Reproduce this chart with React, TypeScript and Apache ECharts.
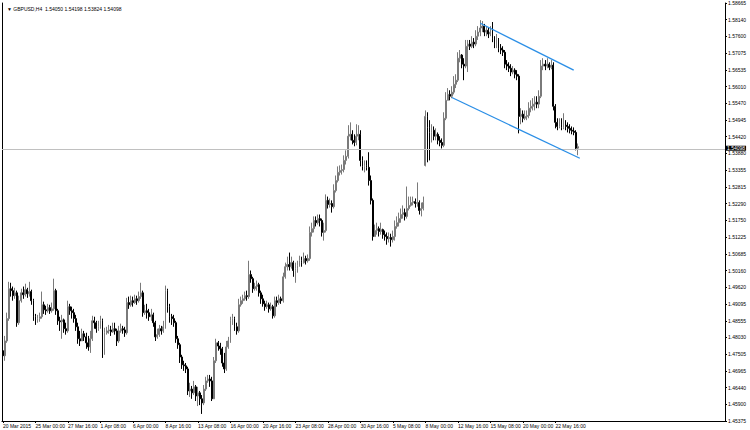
import React, { useEffect, useRef } from 'react';
import * as echarts from 'echarts';

const symbolName = 'GBPUSD';
const timeframe = 'H4';

const xLabels = [
  '20 Mar 2015', '25 Mar 00:00', '27 Mar 16:00', '1 Apr 08:00', '6 Apr 00:00', '8 Apr 16:00',
  '13 Apr 08:00', '16 Apr 00:00', '20 Apr 16:00', '23 Apr 08:00', '28 Apr 00:00', '30 Apr 16:00',
  '5 May 08:00', '8 May 00:00', '12 May 16:00', '15 May 08:00', '20 May 00:00', '22 May 16:00',
];
const barsPerLabel = 16;
const emptySlots = 72;

const yMin = 1.45375;
const yMax = 1.58665;
const yTicks = [
  1.58665, 1.5814, 1.576, 1.57075, 1.56535, 1.5601, 1.5547, 1.54945, 1.5442, 1.5388, 1.53355,
  1.52815, 1.5229, 1.5175, 1.51225, 1.50685, 1.5016, 1.4962, 1.49095, 1.48555, 1.4803, 1.47505,
  1.46965, 1.4644, 1.459, 1.45375,
];

const firstOpen = 1.4761;
const gapOpens: Record<number, number> = { 208: 1.535 };

const closes = [
  1.4745, 1.4792, 1.4863, 1.4958, 1.4952, 1.4936, 1.4945, 1.4850, 1.4920, 1.4945,
  1.4939, 1.4955, 1.4942, 1.4949, 1.4920, 1.4869, 1.4856, 1.4863, 1.4869, 1.4907,
  1.4891, 1.4888, 1.4898, 1.4888, 1.4894, 1.4952, 1.4888, 1.4856, 1.4853, 1.4859,
  1.4831, 1.4824, 1.4901, 1.4888, 1.4882, 1.4863, 1.4837, 1.4799, 1.4792, 1.4815,
  1.4805, 1.4786, 1.4773, 1.4799, 1.4856, 1.4850, 1.4831, 1.4837, 1.4856, 1.4754,
  1.4818, 1.4824, 1.4827, 1.4821, 1.4831, 1.4824, 1.4792, 1.4824, 1.4831, 1.4827,
  1.4818, 1.4914, 1.4907, 1.4920, 1.4914, 1.4926, 1.4920, 1.4933, 1.4945, 1.4882,
  1.4888, 1.4882, 1.4869, 1.4875, 1.4850, 1.4805, 1.4812, 1.4831, 1.4824, 1.4837,
  1.4952, 1.4901, 1.4869, 1.4863, 1.4850, 1.4799, 1.4780, 1.4741, 1.4716, 1.4713,
  1.4703, 1.4633, 1.4639, 1.4627, 1.4646, 1.4617, 1.4627, 1.4608, 1.4595, 1.4639,
  1.4665, 1.4671, 1.4665, 1.4608, 1.4729, 1.4786, 1.4776, 1.4767, 1.4722, 1.4703,
  1.4773, 1.4792, 1.4856, 1.4863, 1.4837, 1.4824, 1.4907, 1.4920, 1.4926, 1.4936,
  1.4933, 1.5003, 1.4990, 1.4958, 1.4965, 1.4971, 1.4945, 1.4926, 1.4910, 1.4901,
  1.4907, 1.4894, 1.4901, 1.4872, 1.4920, 1.4914, 1.4926, 1.4920, 1.4996, 1.5028,
  1.5035, 1.5028, 1.5041, 1.5016, 1.5022, 1.5031, 1.5047, 1.5041, 1.5054, 1.5047,
  1.5054, 1.5137, 1.5149, 1.5175, 1.5168, 1.5181, 1.5175, 1.5137, 1.5143, 1.5239,
  1.5226, 1.5229, 1.5219, 1.5270, 1.5302, 1.5328, 1.5334, 1.5337, 1.5366, 1.5379,
  1.5443, 1.5449, 1.5430, 1.5423, 1.5443, 1.5449, 1.5366, 1.5347, 1.5350, 1.5344,
  1.5302, 1.5239, 1.5124, 1.5143, 1.5149, 1.5140, 1.5146, 1.5130, 1.5124, 1.5117,
  1.5121, 1.5114, 1.5124, 1.5156, 1.5168, 1.5181, 1.5194, 1.5200, 1.5188, 1.5213,
  1.5223, 1.5232, 1.5235, 1.5229, 1.5232, 1.5207, 1.5213, 1.5232, 1.5506, 1.5471,
  1.5455, 1.5462, 1.5443, 1.5449, 1.5430, 1.5423, 1.5414, 1.5500, 1.5557, 1.5576,
  1.5570, 1.5583, 1.5608, 1.5621, 1.5691, 1.5701, 1.5672, 1.5666, 1.5729, 1.5736,
  1.5729, 1.5742, 1.5736, 1.5761, 1.5774, 1.5787, 1.5793, 1.5774, 1.5780, 1.5768,
  1.5774, 1.5755, 1.5736, 1.5749, 1.5723, 1.5717, 1.5710, 1.5672, 1.5666, 1.5659,
  1.5647, 1.5653, 1.5640, 1.5634, 1.5506, 1.5513, 1.5500, 1.5506, 1.5509, 1.5532,
  1.5538, 1.5545, 1.5551, 1.5545, 1.5570, 1.5666, 1.5672, 1.5666, 1.5672, 1.5662,
  1.5669, 1.5538, 1.5487, 1.5474, 1.5481, 1.5471, 1.5478, 1.5474, 1.5468, 1.5462,
  1.5459, 1.5455, 1.5405, 1.54098,
];

const highs = [
  1.4767, 1.4808, 1.4882, 1.4980, 1.4977, 1.4965, 1.4961, 1.4952, 1.4936, 1.4958,
  1.4965, 1.4974, 1.4961, 1.4980, 1.4955, 1.4926, 1.4878, 1.4875, 1.4882, 1.4949,
  1.4917, 1.4904, 1.4910, 1.4907, 1.4914, 1.4990, 1.4958, 1.4894, 1.4869, 1.4875,
  1.4863, 1.4850, 1.4920, 1.4910, 1.4901, 1.4894, 1.4875, 1.4850, 1.4824, 1.4831,
  1.4824, 1.4818, 1.4808, 1.4824, 1.4872, 1.4869, 1.4856, 1.4856, 1.4872, 1.4863,
  1.4834, 1.4837, 1.4843, 1.4840, 1.4850, 1.4850, 1.4831, 1.4840, 1.4847, 1.4840,
  1.4837, 1.4929, 1.4933, 1.4936, 1.4933, 1.4939, 1.4936, 1.4949, 1.4977, 1.4952,
  1.4907, 1.4910, 1.4894, 1.4894, 1.4882, 1.4856, 1.4831, 1.4843, 1.4840, 1.4856,
  1.4968, 1.4958, 1.4910, 1.4878, 1.4875, 1.4856, 1.4808, 1.4786, 1.4748, 1.4729,
  1.4722, 1.4710, 1.4659, 1.4649, 1.4665, 1.4652, 1.4646, 1.4633, 1.4620, 1.4652,
  1.4678, 1.4684, 1.4684, 1.4678, 1.4741, 1.4799, 1.4792, 1.4786, 1.4773, 1.4754,
  1.4792, 1.4805, 1.4869, 1.4878, 1.4869, 1.4850, 1.4926, 1.4933, 1.4939, 1.4949,
  1.4952, 1.5047, 1.5016, 1.4996, 1.4977, 1.4984, 1.4977, 1.4952, 1.4939, 1.4920,
  1.4920, 1.4914, 1.4914, 1.4907, 1.4933, 1.4933, 1.4939, 1.4933, 1.5009, 1.5041,
  1.5060, 1.5073, 1.5060, 1.5047, 1.5041, 1.5047, 1.5063, 1.5060, 1.5073, 1.5063,
  1.5067, 1.5156, 1.5168, 1.5188, 1.5188, 1.5194, 1.5194, 1.5181, 1.5168, 1.5258,
  1.5251, 1.5245, 1.5239, 1.5290, 1.5318, 1.5347, 1.5350, 1.5353, 1.5382, 1.5398,
  1.5478, 1.5487, 1.5462, 1.5449, 1.5481, 1.5478, 1.5462, 1.5379, 1.5366, 1.5366,
  1.5392, 1.5318, 1.5245, 1.5162, 1.5168, 1.5156, 1.5168, 1.5149, 1.5143, 1.5137,
  1.5137, 1.5133, 1.5143, 1.5175, 1.5188, 1.5200, 1.5213, 1.5223, 1.5213, 1.5283,
  1.5251, 1.5251, 1.5251, 1.5245, 1.5296, 1.5239, 1.5232, 1.5251, 1.5525, 1.5519,
  1.5494, 1.5481, 1.5474, 1.5468, 1.5455, 1.5443, 1.5436, 1.5519, 1.5583, 1.5596,
  1.5589, 1.5602, 1.5634, 1.5640, 1.5710, 1.5717, 1.5704, 1.5691, 1.5749, 1.5749,
  1.5749, 1.5761, 1.5755, 1.5780, 1.5793, 1.5812, 1.5809, 1.5800, 1.5793, 1.5787,
  1.5793, 1.5806, 1.5761, 1.5768, 1.5755, 1.5736, 1.5729, 1.5717, 1.5685, 1.5678,
  1.5672, 1.5666, 1.5659, 1.5653, 1.5640, 1.5532, 1.5525, 1.5525, 1.5525, 1.5551,
  1.5557, 1.5564, 1.5570, 1.5570, 1.5589, 1.5685, 1.5691, 1.5685, 1.5691, 1.5678,
  1.5685, 1.5678, 1.5545, 1.5500, 1.5500, 1.5500, 1.5516, 1.5494, 1.5487, 1.5481,
  1.5474, 1.5471, 1.5462, 1.54198,
];

const lows = [
  1.4722, 1.4729, 1.4786, 1.4856, 1.4933, 1.4920, 1.4926, 1.4837, 1.4843, 1.4914,
  1.4926, 1.4933, 1.4929, 1.4933, 1.4907, 1.4856, 1.4843, 1.4850, 1.4853, 1.4863,
  1.4878, 1.4875, 1.4882, 1.4878, 1.4882, 1.4888, 1.4875, 1.4843, 1.4824, 1.4799,
  1.4818, 1.4812, 1.4818, 1.4875, 1.4863, 1.4850, 1.4824, 1.4783, 1.4776, 1.4792,
  1.4792, 1.4767, 1.4761, 1.4754, 1.4792, 1.4831, 1.4818, 1.4824, 1.4831, 1.4738,
  1.4748, 1.4812, 1.4815, 1.4808, 1.4818, 1.4812, 1.4776, 1.4786, 1.4818, 1.4815,
  1.4805, 1.4812, 1.4894, 1.4901, 1.4901, 1.4910, 1.4907, 1.4914, 1.4926, 1.4869,
  1.4875, 1.4863, 1.4856, 1.4856, 1.4837, 1.4792, 1.4799, 1.4805, 1.4812, 1.4818,
  1.4831, 1.4882, 1.4850, 1.4843, 1.4837, 1.4786, 1.4767, 1.4722, 1.4703, 1.4697,
  1.4690, 1.4620, 1.4614, 1.4608, 1.4620, 1.4601, 1.4585, 1.4588, 1.4560, 1.4588,
  1.4633, 1.4659, 1.4646, 1.4601, 1.4608, 1.4722, 1.4761, 1.4748, 1.4710, 1.4690,
  1.4697, 1.4767, 1.4786, 1.4843, 1.4824, 1.4812, 1.4818, 1.4901, 1.4910, 1.4920,
  1.4920, 1.4926, 1.4977, 1.4945, 1.4952, 1.4952, 1.4933, 1.4910, 1.4901, 1.4888,
  1.4894, 1.4882, 1.4888, 1.4863, 1.4866, 1.4901, 1.4907, 1.4910, 1.4914, 1.4990,
  1.5016, 1.5016, 1.5022, 1.4996, 1.4977, 1.5009, 1.5028, 1.5028, 1.5038, 1.5035,
  1.5041, 1.5047, 1.5124, 1.5137, 1.5156, 1.5162, 1.5156, 1.5124, 1.5111, 1.5137,
  1.5213, 1.5216, 1.5200, 1.5213, 1.5264, 1.5296, 1.5318, 1.5321, 1.5328, 1.5353,
  1.5372, 1.5430, 1.5417, 1.5411, 1.5414, 1.5430, 1.5347, 1.5334, 1.5328, 1.5334,
  1.5286, 1.5226, 1.5111, 1.5124, 1.5130, 1.5124, 1.5130, 1.5117, 1.5111, 1.5098,
  1.5105, 1.5092, 1.5105, 1.5111, 1.5149, 1.5156, 1.5168, 1.5181, 1.5175, 1.5181,
  1.5207, 1.5219, 1.5223, 1.5216, 1.5219, 1.5194, 1.5188, 1.5207, 1.5347, 1.5360,
  1.5366, 1.5423, 1.5430, 1.5430, 1.5417, 1.5411, 1.5404, 1.5408, 1.5494, 1.5557,
  1.5557, 1.5564, 1.5576, 1.5596, 1.5615, 1.5678, 1.5659, 1.5621, 1.5659, 1.5647,
  1.5717, 1.5723, 1.5723, 1.5729, 1.5749, 1.5761, 1.5774, 1.5761, 1.5761, 1.5755,
  1.5761, 1.5742, 1.5723, 1.5723, 1.5710, 1.5704, 1.5698, 1.5659, 1.5653, 1.5647,
  1.5634, 1.5640, 1.5627, 1.5621, 1.5452, 1.5481, 1.5487, 1.5494, 1.5494, 1.5500,
  1.5519, 1.5525, 1.5525, 1.5532, 1.5532, 1.5564, 1.5653, 1.5653, 1.5659, 1.5653,
  1.5656, 1.5525, 1.5468, 1.5462, 1.5468, 1.5462, 1.5465, 1.5462, 1.5455, 1.5452,
  1.5449, 1.5446, 1.5398, 1.53824,
];

const upperTrend = [[235, 1.5802], [281, 1.5653]];
const lowerTrend = [[221, 1.5566], [284, 1.5373]];

const FONT = '"Liberation Sans", Arial, sans-serif';

export default function App() {
  const ref = useRef<HTMLDivElement>(null);

  useEffect(() => {
    if (!ref.current) return;
    const chart = echarts.init(ref.current, undefined, { renderer: 'svg' });

    const opens = closes.map((c, i) =>
      i === 0 ? firstOpen : gapOpens[i] !== undefined ? gapOpens[i] : closes[i - 1]
    );
    const candles = closes.map((c, i) => [opens[i], c, lows[i], highs[i]]);
    const total = closes.length + emptySlots;
    const categories: string[] = [];
    for (let i = 0; i < total; i++) {
      const k = i / barsPerLabel;
      categories.push(i % barsPerLabel === 0 && k < xLabels.length ? xLabels[k] : '');
    }
    const last = closes.length - 1;
    const header = `${symbolName},${timeframe}  ${opens[last].toFixed(5)} ${highs[last].toFixed(5)} ${lows[last].toFixed(5)} ${closes[last].toFixed(5)}`;

    chart.setOption({
      animation: false,
      backgroundColor: '#ffffff',
      title: {
        text: '▼ ' + header,
        left: 2,
        top: 1,
        textStyle: { fontSize: 5, fontWeight: 'normal', color: '#000', fontFamily: FONT },
      },
      grid: { left: 1, right: 25, top: 3, bottom: 9 },
      xAxis: {
        type: 'category',
        data: categories,
        boundaryGap: true,
        axisLine: { show: true, lineStyle: { color: '#000', width: 1 } },
        axisTick: {
          show: true,
          alignWithLabel: true,
          length: 2,
          interval: (idx: number, val: string) => val !== '',
          lineStyle: { color: '#000' },
        },
        axisLabel: {
          interval: barsPerLabel - 1,
          align: 'left',
          fontSize: 5,
          color: '#000',
          margin: 2,
          fontFamily: FONT,
        },
        splitLine: { show: false },
      },
      yAxis: [
        {
          type: 'value',
          position: 'right',
          min: yMin,
          max: yMax,
          scale: true,
          axisLine: { show: true, lineStyle: { color: '#000', width: 1 } },
          axisTick: { show: true, length: 2, customValues: yTicks, lineStyle: { color: '#000' } },
          axisLabel: {
            customValues: yTicks,
            formatter: (v: number) => v.toFixed(5),
            fontSize: 5,
            lineHeight: 5,
            color: '#000',
            margin: 3,
            fontFamily: FONT,
          },
          splitLine: { show: false },
        },
        {
          type: 'value',
          position: 'left',
          min: yMin,
          max: yMax,
          axisLine: { show: true, lineStyle: { color: '#000', width: 1 } },
          axisTick: { show: false },
          axisLabel: { show: false },
          splitLine: { show: false },
        },
      ],
      series: [
        {
          type: 'candlestick',
          data: candles,
          barWidth: 1.4,
          itemStyle: {
            color: '#a8a8a8',
            color0: '#000000',
            borderColor: '#7a7a7a',
            borderColor0: '#000000',
            borderWidth: 1,
          },
          markLine: {
            silent: true,
            symbol: ['none', 'none'],
            lineStyle: { color: '#c0c0c0', width: 1, type: 'solid' },
            label: {
              show: true,
              position: 'end',
              distance: 1,
              offset: [0, -1.5],
              formatter: () => closes[last].toFixed(5),
              color: '#fff',
              backgroundColor: '#000',
              padding: [0, 1, 0, 1],
              lineHeight: 5,
              fontSize: 5,
              fontFamily: FONT,
            },
            data: [{ yAxis: closes[last] }],
          },
        },
        {
          type: 'line',
          data: upperTrend,
          symbol: 'none',
          lineStyle: { color: '#2a8ee6', width: 1.3 },
          z: 5,
        },
        {
          type: 'line',
          data: lowerTrend,
          symbol: 'none',
          lineStyle: { color: '#2a8ee6', width: 1.3 },
          z: 5,
        },
      ],
    });

    return () => chart.dispose();
  }, []);

  return <div ref={ref} style={{ width: 750, height: 430, position: 'absolute', left: 0, top: 0 }} />;
}
